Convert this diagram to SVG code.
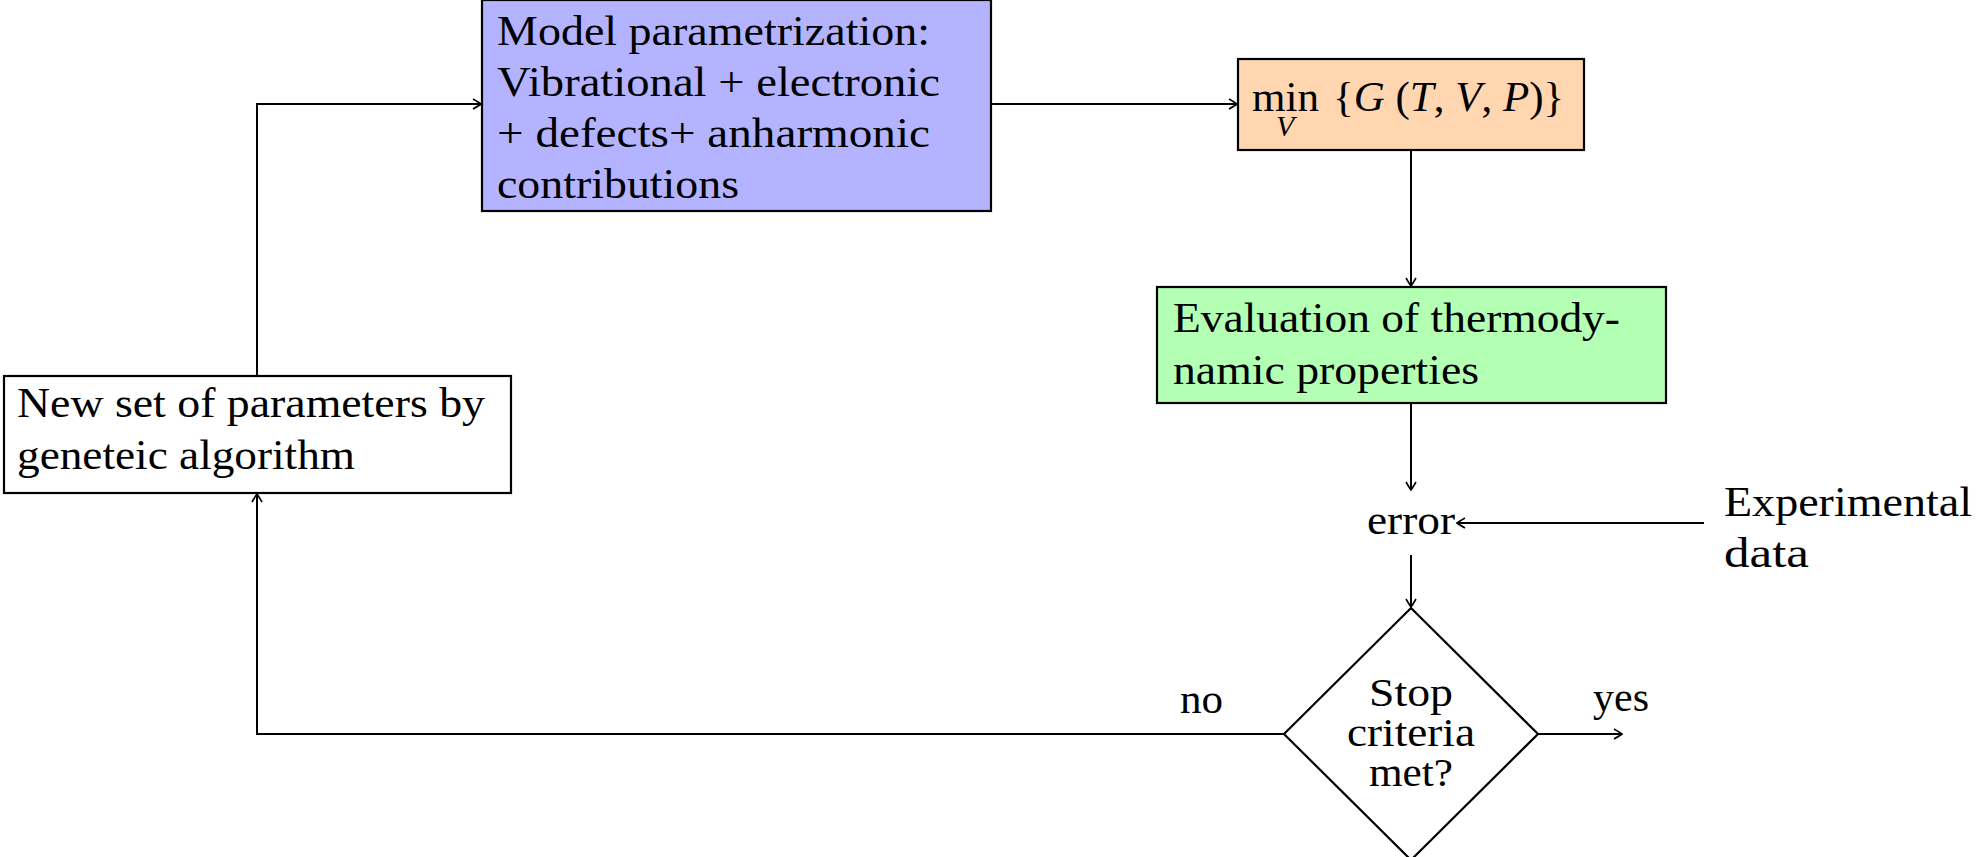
<svg xmlns="http://www.w3.org/2000/svg" width="1976" height="857" viewBox="0 0 1976 857">
<style>
  .t { font-family: "Liberation Serif", "Times New Roman", serif; font-size: 43px; fill: #000; }
  .d { font-size: 39px; }
  .box { stroke: #000; stroke-width: 2.2; }
  .edge { fill: none; stroke: #000; stroke-width: 2; }
  .it { font-style: italic; }
</style>
<defs>
  <marker id="arr" markerUnits="userSpaceOnUse" markerWidth="14" markerHeight="14" viewBox="-10 -7 12 14" refX="0" refY="0" orient="auto">
    <path d="M -8,-5 Q -2,-1.5 0,0 Q -2,1.5 -8,5" fill="none" stroke="#000" stroke-width="1.6"/>
  </marker>
</defs>
<rect width="1976" height="857" fill="#fff"/>

<g id="connectors">
  <path class="edge" d="M 991,104 L 1237,104" marker-end="url(#arr)"/>
  <path class="edge" d="M 1411,150 L 1411,286" marker-end="url(#arr)"/>
  <path class="edge" d="M 1411,403 L 1411,490" marker-end="url(#arr)"/>
  <path class="edge" d="M 1704,523 L 1457,523" marker-end="url(#arr)"/>
  <path class="edge" d="M 1411,555 L 1411,607" marker-end="url(#arr)"/>
  <path class="edge" d="M 1284,734 L 257,734 L 257,494" marker-end="url(#arr)"/>
  <path class="edge" d="M 257,376 L 257,104 L 481,104" marker-end="url(#arr)"/>
  <path class="edge" d="M 1538,734 L 1622,734" marker-end="url(#arr)"/>
</g>

<g id="model">
  <rect class="box" x="482" y="0" width="509" height="211" fill="#b3b3ff"/>
  <text class="t" x="497" y="45" textLength="433" lengthAdjust="spacingAndGlyphs">Model parametrization:</text>
  <text class="t" x="497" y="96" textLength="443" lengthAdjust="spacingAndGlyphs">Vibrational + electronic</text>
  <text class="t" x="497" y="147" textLength="433" lengthAdjust="spacingAndGlyphs">+ defects+ anharmonic</text>
  <text class="t" x="497" y="198" textLength="242" lengthAdjust="spacingAndGlyphs">contributions</text>
</g>

<g id="minimize">
  <rect class="box" x="1238" y="59" width="346" height="91" fill="#ffd6b0"/>
  <text class="t"><tspan x="1252" y="111">min</tspan><tspan class="it" x="1276" y="136" font-size="30">V</tspan><tspan x="1333" y="111">{<tspan class="it">G</tspan> (<tspan class="it">T</tspan>, <tspan class="it">V</tspan>, <tspan class="it">P</tspan>)}</tspan></text>
</g>

<g id="evaluation">
  <rect class="box" x="1157" y="287" width="509" height="116" fill="#b3ffb3"/>
  <text class="t" x="1173" y="332" textLength="447" lengthAdjust="spacingAndGlyphs">Evaluation of thermody-</text>
  <text class="t" x="1173" y="384" textLength="306" lengthAdjust="spacingAndGlyphs">namic properties</text>
</g>

<g id="newparams">
  <rect class="box" x="4" y="376" width="507" height="117" fill="#fff"/>
  <text class="t" x="17" y="417" textLength="468" lengthAdjust="spacingAndGlyphs">New set of parameters by</text>
  <text class="t" x="17" y="469" textLength="338" lengthAdjust="spacingAndGlyphs">geneteic algorithm</text>
</g>

<g id="error">
  <text class="t" x="1367" y="534" textLength="88" lengthAdjust="spacingAndGlyphs">error</text>
</g>

<g id="experimental">
  <text class="t" x="1724" y="516" textLength="248" lengthAdjust="spacingAndGlyphs">Experimental</text>
  <text class="t" x="1724" y="567" textLength="85" lengthAdjust="spacingAndGlyphs">data</text>
</g>

<g id="stop">
  <polygon class="box" points="1411,608 1538,734 1411,860 1284,734" fill="#fff"/>
  <text class="t d" x="1411" y="706" text-anchor="middle" textLength="84" lengthAdjust="spacingAndGlyphs">Stop</text>
  <text class="t d" x="1411" y="746" text-anchor="middle" textLength="128" lengthAdjust="spacingAndGlyphs">criteria</text>
  <text class="t d" x="1411" y="786" text-anchor="middle" textLength="84" lengthAdjust="spacingAndGlyphs">met?</text>
</g>

<g id="labels">
  <text class="t" x="1180" y="713" textLength="43" lengthAdjust="spacingAndGlyphs">no</text>
  <text class="t" x="1593" y="711" textLength="56" lengthAdjust="spacingAndGlyphs">yes</text>
</g>
</svg>
